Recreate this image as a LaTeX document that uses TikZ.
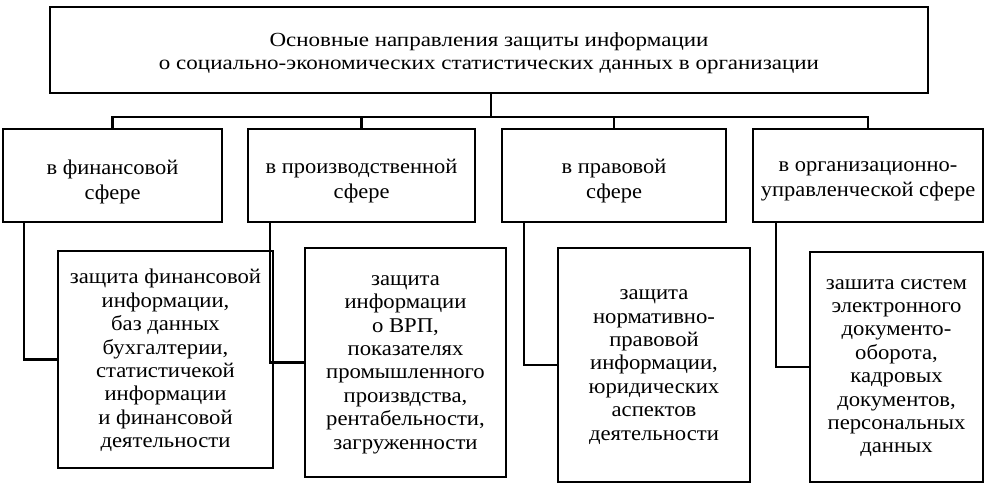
\documentclass[tikz,border=0pt]{standalone}
\usepackage{fontspec}
\setmainfont{Liberation Serif}
\newfontfamily\topfont[FakeStretch=1.15]{Liberation Serif}
\newfontfamily\midfont[FakeStretch=1.07]{Liberation Serif}
\newfontfamily\lowfont[FakeStretch=1.08]{Liberation Serif}
\usetikzlibrary{calc}
\begin{document}
\begin{tikzpicture}[x=1pt,y=-1pt,
  box/.style={draw, line width=2.6pt, inner sep=0pt},
  txt/.style={inner sep=0pt, align=center},
  toptxt/.style={txt, font=\topfont\fontsize{20}{22.5}\selectfont},
  midtxt/.style={txt, font=\midfont\fontsize{21}{25}\selectfont},
  lowtxt/.style={txt, font=\lowfont\fontsize{21}{23.4}\selectfont},
  conn/.style={line width=2.4pt}]
\useasboundingbox (0,0) rectangle (988,492);
% top
\node[box, minimum width=878pt, minimum height=86pt] (top) at (489,50) {};
\node[toptxt] (topt) at ($(top.center)+(0,3)$)
  {Основные направления защиты информации\\о социально-экономических статистических данных в организации};
% level 2
\node[box, minimum width=219pt, minimum height=93pt] (b1) at (112.5,175.5) {};
\node[box, minimum width=227pt, minimum height=93pt] (b2) at (361.5,175.5) {};
\node[box, minimum width=224pt, minimum height=93pt] (b3) at (614,175.5) {};
\node[box, minimum width=230pt, minimum height=93pt] (b4) at (868,175.5) {};
\node[midtxt] (b1t) at ($(b1.center)+(0,6)$) {в финансовой\\сфере};
\node[midtxt] (b2t) at ($(b2.center)+(0,6)$) {в производственной\\сфере};
\node[midtxt] (b3t) at ($(b3.center)+(0,6)$) {в правовой\\сфере};
\node[midtxt] (b4t) at ($(b4.center)+(0,6)$) {в организационно-\\управленческой сфере};
% level 3
\node[box, minimum width=215pt, minimum height=217pt] (c1) at (165.5,359.5) {};
\node[box, minimum width=201pt, minimum height=229pt] (c2) at (405.5,362.5) {};
\node[box, minimum width=192pt, minimum height=234pt] (c3) at (654,365) {};
\node[box, minimum width=173pt, minimum height=230pt] (c4) at (896.5,367) {};
\node[lowtxt] (c1t) at ($(c1.center)+(0,1)$)
  {защита финансовой\\информации,\\баз данных\\бухгалтерии,\\статистичекой\\информации\\и финансовой\\деятельности};
\node[lowtxt] (c2t) at ($(c2.center)+(0,2)$)
  {защита\\информации\\о ВРП,\\показателях\\промышленного\\произвдства,\\рентабельности,\\загруженности};
\node[lowtxt] (c3t) at ($(c3.center)+(0,2)$)
  {защита\\нормативно-\\правовой\\информации,\\юридических\\аспектов\\деятельности};
\node[lowtxt] (c4t) at ($(c4.center)+(0,1)$)
  {зашита систем\\электронного\\документо-\\оборота,\\кадровых\\документов,\\персональных\\данных};
% bus
\coordinate (bus) at (491,117);
\draw[conn] (top.south -| bus) -- (bus);
\draw[conn] (b1.north) |- (bus);
\draw[conn] (b2.north) |- (bus);
\draw[conn] (b3.north) |- (bus);
\draw[conn] (b4.north) |- (bus);
% side connectors
\draw[conn] ($(b1.south west)+(22,0)$) |- (c1.west);
\draw[conn] ($(b2.south west)+(23,0)$) |- (c2.west);
\draw[conn] ($(b3.south west)+(23,0)$) |- (c3.west);
\draw[conn] ($(b4.south west)+(24,0)$) |- (c4.west);
\end{tikzpicture}
\end{document}
